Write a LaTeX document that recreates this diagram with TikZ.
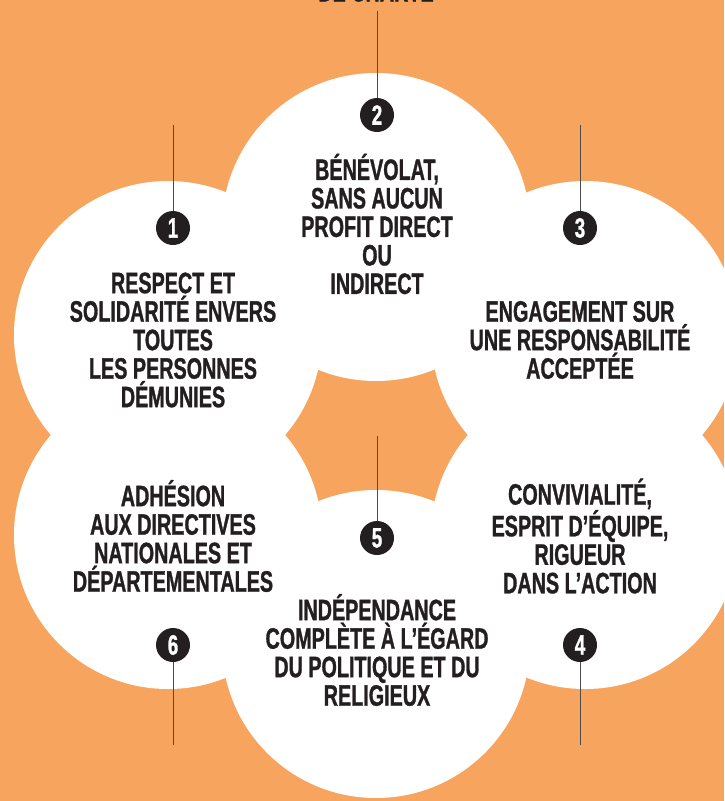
\documentclass[tikz,border=0pt]{standalone}
\usepackage{fontspec}
\setmainfont{Liberation Sans}[FakeStretch=0.67, FakeBold=1]
\definecolor{fondorange}{RGB}{247,164,94}
\definecolor{encre}{RGB}{35,31,32}
\tikzset{
  bulle/.style={fill=white},
  principe/.style={font=\bfseries\fontsize{29.5}{28.5}\selectfont, align=center, text=encre, inner sep=0pt},
  pastille/.style={circle, fill=encre, text=white, minimum size=34pt, inner sep=0pt, font=\bfseries\fontsize{28}{28}\selectfont},
  fil/.style={draw=black!70, line width=0.8pt}
}
\begin{document}
\begin{tikzpicture}[x=1pt, y=-1pt]
	\fill[fondorange] (0,0) rectangle (724,801);
	\useasboundingbox (0,0) rectangle (724,801);
	% les six bulles
	\fill[bulle] (376,227) circle (154pt);
	\fill[bulle] (168,335) circle (154pt);
	\fill[bulle] (585,335) circle (154pt);
	\fill[bulle] (168,535) circle (154pt);
	\fill[bulle] (585,535) circle (154pt);
	\fill[bulle] (376,644) circle (154pt);
	%%%%%%%%%
	\node[principe, anchor=base] (titre) at (376,1.5) {DE CHARTE};
	%%%%%%%%%
	\node[pastille] (p1) at (173,228) {1};
	\node[pastille] (p2) at (377,115) {2};
	\node[pastille] (p3) at (580,228) {3};
	\node[pastille] (p4) at (580,645) {4};
	\node[pastille] (p5) at (377,538) {5};
	\node[pastille] (p6) at (173,645) {6};
	%%%%%%%%%
	\coordinate (f1) at (173,125);
	\coordinate (f2) at (377,11);
	\coordinate (f3) at (580,125);
	\coordinate (f4) at (580,745);
	\coordinate (f5) at (377,436);
	\coordinate (f6) at (173,745);
	\draw[fil] (f1) -- (p1);
	\draw[fil] (f2) -- (p2);
	\draw[fil] (f3) -- (p3);
	\draw[fil] (p4) -- (f4);
	\draw[fil] (f5) -- (p5);
	\draw[fil] (p6) -- (f6);
	%%%%%%%%%
	\node[principe] (t1) at (173,340) {RESPECT ET\\SOLIDARITÉ ENVERS\\TOUTES\\LES PERSONNES\\DÉMUNIES};
	\node[principe] (t2) at (377,224) {BÉNÉVOLAT,\\SANS AUCUN\\PROFIT DIRECT\\OU\\INDIRECT};
	\node[principe] (t3) at (580,340) {ENGAGEMENT SUR\\UNE RESPONSABILITÉ\\ACCEPTÉE};
	\node[principe] (t4) at (580,536) {CONVIVIALITÉ,\\ESPRIT D’ÉQUIPE,\\RIGUEUR\\DANS L’ACTION};
	\node[principe] (t5) at (377,650) {INDÉPENDANCE\\COMPLÈTE À L’ÉGARD\\DU POLITIQUE ET DU\\RELIGIEUX};
	\node[principe] (t6) at (173,536) {ADHÉSION\\AUX DIRECTIVES\\NATIONALES ET\\DÉPARTEMENTALES};
\end{tikzpicture}
\end{document}
